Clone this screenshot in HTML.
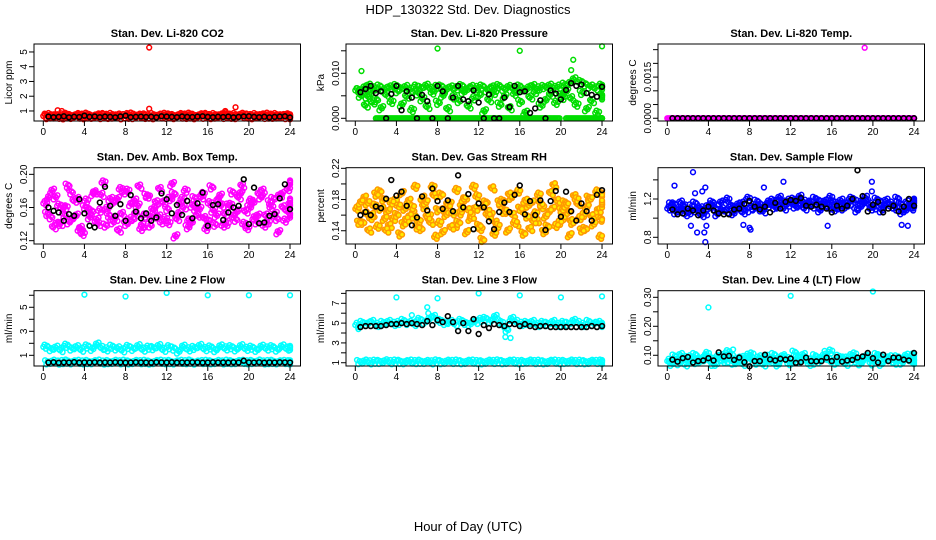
<!DOCTYPE html>
<html><head><meta charset="utf-8"><title>HDP_130322 Std. Dev. Diagnostics</title>
<style>
html,body{margin:0;padding:0;background:#fff;}
svg{display:block;font-family:"Liberation Sans",Arial,sans-serif;}
</style></head>
<body>
<svg id="chart" width="936" height="540" viewBox="0 0 936 540">
<text x="468" y="14" text-anchor="middle" font-size="13">HDP_130322  Std. Dev. Diagnostics</text>
<text x="468" y="531" text-anchor="middle" font-size="13">Hour of Day (UTC)</text>
<g id="panels"></g>
</svg>
<script>
// x tick labels
const xTicks = [0,4,8,12,16,20,24];

// Panel 1: CO2
const co2A = [0.66,0.70,0.62,0.68,0.72,0.64,0.70,0.66,0.73,0.62,0.68,0.70,0.65,0.71,0.67,0.63,0.70,0.74,0.66,0.68,0.62,0.70,0.66,0.72,0.68,0.64,0.70,0.67,0.73,0.65,0.69,0.71,0.64,0.70,0.68,0.75,0.66,0.70,0.72,0.67,0.64,0.70,0.68,0.73,0.66,0.70,0.64,0.69,0.62];
const co2B = [0.58,0.62,0.60,0.56,0.63,0.59,0.61,0.57,0.62,0.60,0.58,0.63,0.59,0.61,0.56,0.62,0.60,0.58,0.64,0.59,0.61,0.57,0.62,0.60,0.63,0.58,0.61,0.59,0.62,0.57,0.60,0.63,0.58,0.61,0.59,0.64,0.60,0.58,0.62,0.61,0.57,0.63,0.59,0.61,0.60,0.62,0.58,0.60,0.57];
const co2Blk = [0.62,0.58,0.60,0.64,0.57,0.61,0.59,0.68,0.60,0.63,0.58,0.62,0.60,0.57,0.63,0.68,0.58,0.60,0.62,0.59,0.61,0.57,0.64,0.62,0.60,0.58,0.63,0.60,0.59,0.62,0.64,0.60,0.58,0.61,0.59,0.62,0.57,0.60,0.63,0.64,0.60,0.58,0.61,0.57,0.60,0.62,0.64,0.56];
const co2OutT = [10.3,10.3,1.4,1.8,17.7,18.7];
const co2OutV = [5.3,1.15,1.05,1.0,1.0,1.25];

// Panel 2: Pressure
const presA = [0.0062,0.0055,0.0048,0.0035,0,0,0,0,0,0,0,0,0,0,0,0,0,0,0,0,0,0,0,0,0,0,0,0,0,0,0,0,0,0,0,0,0,0,0,0,0.0045,0,0,0,0,0,0,0,0];
const presB = [0.0062,0.0068,0.0072,0.0066,0.0070,0.0064,0.0068,0.0071,0.0066,0.0069,0.0063,0.0070,0.0067,0.0072,0.0065,0.0069,0.0070,0.0064,0.0068,0.0066,0.0071,0.0063,0.0069,0.0067,0.0070,0.0062,0.0068,0.0071,0.0065,0.0069,0.0066,0.0070,0.0064,0.0068,0.0071,0.0066,0.0069,0.0072,0.0067,0.0070,0.0074,0.0078,0.0086,0.0080,0.0075,0.0070,0.0066,0.0072,0.0068];
const presC = [0.0050,0.0028,0.0058,0.0040,0.0022,0.0052,0.0036,0.0060,0.0030,0.0048,0.0018,0.0055,0.0042,0.0025,0.0057,0.0034,0.0050,0.0020,0.0046,0.0038,0.0058,0.0026,0.0044,0.0052,0.0015,0.0040,0.0056,0.0030,0.0048,0.0022,0.0054,0.0036,0.0012,0.0046,0.0058,0.0028,0.0040,0.0052,0.0034,0.0050,0.0060,0.0044,0.0030,0.0056,0.0020,0.0038,0.0012,0.0050,0.0046];
const presBlk = [0.0058,0.0065,0.0072,0.0056,0.0060,0,0.0054,0.0072,0.0018,0.0060,0.0046,0,0.0052,0.0038,0,0.0072,0.0060,0,0.0046,0.0072,0.0042,0.0038,0.0062,0.0035,0,0.0053,0,0,0.0046,0.0025,0.0072,0.0058,0.0060,0.0012,0.0022,0.0040,0,0.0062,0.0055,0.0042,0.0063,0.0078,0.0072,0.0075,0.0056,0.0052,0.0048,0.0070];
const presOutT = [0.6,8,16,21.2,21,24];
const presOutV = [0.0105,0.0155,0.015,0.013,0.0107,0.016];

// Panel 3: Li-820 Temp
const tmpA = [0,0,0,0,0,0,0,0,0,0,0,0,0,0,0,0,0,0,0,0,0,0,0,0,0,0,0,0,0,0,0,0,0,0,0,0,0,0,0,0,0,0,0,0,0,0,0,0,0];
const tmpBlk = [0,0,0,0,0,0,0,0,0,0,0,0,0,0,0,0,0,0,0,0,0,0,0,0,0,0,0,0,0,0,0,0,0,0,0,0,0,0,0,0,0,0,0,0,0,0,0,0];
const tmpOutT = [19.2];
const tmpOutV = [0.00257];

// Panel 4: Amb. Box Temp
const ambA = [0.165,0.148,0.172,0.140,0.160,0.178,0.150,0.135,0.168,0.155,0.145,0.175,0.158,0.142,0.170,0.152,0.180,0.146,0.162,0.138,0.173,0.156,0.149,0.166,0.141,0.176,0.153,0.160,0.144,0.171,0.158,0.147,0.165,0.139,0.174,0.152,0.163,0.145,0.177,0.155,0.168,0.142,0.172,0.150,0.160,0.146,0.176,0.156,0.168];
const ambB = [0.152,0.180,0.140,0.160,0.186,0.146,0.170,0.128,0.158,0.176,0.140,0.190,0.150,0.166,0.132,0.178,0.144,0.168,0.185,0.150,0.138,0.160,0.182,0.146,0.170,0.125,0.164,0.180,0.142,0.158,0.172,0.134,0.184,0.150,0.162,0.140,0.178,0.155,0.186,0.135,0.166,0.150,0.180,0.142,0.170,0.130,0.160,0.182,0.150];
const ambC = [0.172,0.136,0.162,0.150,0.142,0.168,0.132,0.160,0.148,0.178,0.156,0.138,0.170,0.146,0.182,0.140,0.164,0.152,0.134,0.174,0.148,0.166,0.142,0.158,0.188,0.146,0.170,0.136,0.162,0.150,0.176,0.144,0.156,0.168,0.138,0.162,0.150,0.172,0.140,0.160,0.148,0.176,0.138,0.166,0.152,0.174,0.144,0.162,0.190];
const ambBlk = [0.160,0.156,0.154,0.144,0.152,0.150,0.170,0.153,0.138,0.136,0.166,0.185,0.162,0.150,0.164,0.144,0.175,0.155,0.147,0.153,0.144,0.148,0.177,0.170,0.153,0.163,0.151,0.168,0.147,0.165,0.178,0.138,0.163,0.164,0.145,0.154,0.160,0.162,0.194,0.140,0.184,0.141,0.142,0.150,0.152,0.171,0.188,0.158];

// Panel 5: Gas Stream RH
const rhA = [0.168,0.150,0.175,0.160,0.145,0.180,0.165,0.155,0.172,0.148,0.178,0.162,0.152,0.170,0.158,0.185,0.150,0.166,0.174,0.146,0.162,0.180,0.155,0.168,0.142,0.176,0.160,0.150,0.172,0.164,0.182,0.148,0.166,0.158,0.176,0.152,0.170,0.145,0.168,0.178,0.156,0.164,0.150,0.174,0.160,0.182,0.148,0.166,0.172];
const rhB = [0.150,0.182,0.140,0.172,0.190,0.155,0.146,0.178,0.135,0.168,0.158,0.196,0.142,0.176,0.150,0.132,0.186,0.160,0.144,0.192,0.170,0.138,0.158,0.184,0.128,0.164,0.194,0.146,0.178,0.140,0.160,0.190,0.136,0.172,0.152,0.186,0.138,0.164,0.198,0.150,0.176,0.134,0.184,0.156,0.142,0.180,0.160,0.132,0.186];
const rhC = [0.176,0.162,0.156,0.186,0.168,0.140,0.176,0.160,0.188,0.154,0.170,0.144,0.182,0.158,0.196,0.166,0.138,0.174,0.162,0.150,0.180,0.166,0.196,0.146,0.172,0.158,0.136,0.176,0.164,0.186,0.150,0.168,0.178,0.142,0.162,0.174,0.158,0.188,0.146,0.166,0.172,0.152,0.180,0.140,0.170,0.158,0.190,0.154,0.176];
const rhBlk = [0.160,0.164,0.160,0.171,0.169,0.181,0.205,0.185,0.190,0.172,0.147,0.157,0.184,0.166,0.194,0.178,0.168,0.179,0.165,0.211,0.170,0.187,0.142,0.175,0.170,0.152,0.142,0.164,0.176,0.164,0.186,0.198,0.161,0.178,0.160,0.179,0.141,0.178,0.191,0.158,0.190,0.165,0.153,0.175,0.165,0.153,0.186,0.192];

// Panel 6: Sample Flow
const sfA = [1.10,1.14,1.08,1.12,1.06,1.15,1.10,1.05,1.13,1.09,1.16,1.07,1.12,1.10,1.15,1.08,1.11,1.17,1.09,1.13,1.18,1.12,1.16,1.14,1.19,1.13,1.17,1.15,1.12,1.18,1.14,1.11,1.16,1.13,1.10,1.15,1.18,1.12,1.16,1.14,1.11,1.17,1.13,1.15,1.10,1.14,1.08,1.12,1.15];
const sfB = [1.14,1.06,1.16,1.04,1.12,1.08,1.03,1.11,1.16,1.04,1.09,1.19,1.05,1.14,1.06,1.20,1.10,1.13,1.07,1.16,1.11,1.21,1.10,1.18,1.12,1.22,1.10,1.16,1.20,1.08,1.17,1.21,1.09,1.18,1.14,1.20,1.08,1.17,1.21,1.10,1.19,1.08,1.18,1.12,1.20,1.06,1.16,1.10,1.18];
const sfBlk = [1.09,1.04,1.05,1.10,1.08,1.03,1.08,1.12,1.08,1.05,1.04,1.04,1.09,1.10,1.15,1.18,1.12,1.09,1.12,1.06,1.16,1.10,1.17,1.19,1.18,1.21,1.13,1.12,1.14,1.12,1.10,1.06,1.13,1.10,1.13,1.20,1.50,1.23,1.07,1.14,1.17,1.06,1.10,1.13,1.07,1.12,1.20,1.13];
const sfOutT = [0.7,2.5,2.3,2.7,3.4,3.7,3.6,3.8,8,8.1,7.4,9.4,11.3,15.6,19.9,19.9,22.8,23.4,2.9,3.7];
const sfOutV = [1.34,1.48,0.92,1.26,1.28,0.75,0.85,0.92,0.90,0.88,0.93,1.32,1.38,0.92,1.38,1.28,0.93,0.92,0.85,1.32];

// Panel 7: Line 2 Flow
const l2A = [1.70,1.50,1.62,1.42,1.78,1.55,1.66,1.45,1.72,1.52,1.88,1.60,1.48,1.70,1.56,1.40,1.68,1.52,1.74,1.46,1.62,1.58,1.75,1.44,1.66,1.54,1.30,1.70,1.48,1.60,1.76,1.50,1.64,1.42,1.72,1.56,1.66,1.48,1.74,1.52,1.62,1.44,1.70,1.55,1.66,1.46,1.72,1.54,1.60];
const l2B = [0.40,0.45,0.38,0.42,0.46,0.40,0.44,0.39,0.43,0.41,0.46,0.38,0.42,0.44,0.40,0.45,0.39,0.43,0.41,0.44,0.38,0.42,0.45,0.40,0.43,0.39,0.44,0.41,0.46,0.38,0.42,0.44,0.40,0.43,0.39,0.45,0.41,0.42,0.44,0.40,0.43,0.46,0.39,0.42,0.44,0.40,0.43,0.41,0.40];
const l2Blk = [0.40,0.42,0.38,0.41,0.40,0.43,0.39,0.41,0.40,0.42,0.39,0.41,0.40,0.42,0.41,0.39,0.40,0.42,0.41,0.40,0.39,0.42,0.41,0.40,0.42,0.39,0.41,0.40,0.42,0.41,0.39,0.40,0.42,0.40,0.41,0.39,0.42,0.40,0.55,0.41,0.40,0.42,0.39,0.41,0.40,0.42,0.41,0.40];
const l2OutT = [4,8,12,16,20,24];
const l2OutV = [6.05,5.9,6.2,6.0,6.0,6.0];

// Panel 8: Line 3 Flow
const l3A = [4.8,5.0,4.9,5.1,4.8,5.0,5.1,4.9,5.0,5.2,5.0,4.9,5.3,5.1,5.4,5.6,5.2,5.0,5.1,4.9,5.2,5.0,4.9,5.1,5.3,5.4,5.2,5.6,5.0,4.3,5.4,5.1,4.9,5.0,5.1,4.8,5.0,4.9,5.1,4.8,5.0,4.9,5.2,5.0,4.8,5.1,4.9,5.0,4.8];
const l3B = [1.05,1.10,1.02,1.08,1.06,1.12,1.04,1.09,1.07,1.03,1.10,1.05,1.08,1.06,1.02,1.11,1.04,1.08,1.06,1.10,1.03,1.07,1.09,1.05,1.02,1.08,1.06,1.11,1.04,1.07,1.09,1.03,1.06,1.10,1.05,1.08,1.02,1.07,1.09,1.04,1.06,1.10,1.05,1.08,1.03,1.07,1.06,1.09,1.04];
const l3Blk = [4.6,4.7,4.7,4.7,4.7,4.8,4.9,4.9,5.0,4.9,5.0,4.9,4.8,5.2,4.8,5.3,5.1,5.7,5.1,4.2,5.0,4.2,5.4,3.9,4.8,4.5,4.9,4.8,4.7,4.9,4.9,4.7,4.9,4.7,4.6,4.7,4.7,4.6,4.6,4.6,4.6,4.6,4.6,4.6,4.6,4.7,4.6,4.7];
const l3OutT = [4,8,12,16,20,24,7,7.1,5.5,14.6,15.1,0.3];
const l3OutV = [7.6,7.5,8.0,7.8,7.6,7.7,6.6,6.0,5.8,3.6,3.5,4.4];

// Panel 9: Line 4 (LT) Flow
const l4A = [0.080,0.095,0.072,0.090,0.085,0.100,0.078,0.092,0.088,0.070,0.096,0.082,0.098,0.076,0.090,0.084,0.102,0.074,0.088,0.094,0.080,0.068,0.096,0.086,0.078,0.092,0.100,0.082,0.074,0.090,0.098,0.084,0.076,0.094,0.088,0.080,0.102,0.072,0.090,0.086,0.078,0.096,0.082,0.092,0.074,0.088,0.098,0.080,0.090];
const l4B = [0.070,0.082,0.100,0.068,0.092,0.076,0.086,0.104,0.070,0.094,0.080,0.110,0.074,0.088,0.070,0.098,0.078,0.092,0.068,0.084,0.100,0.076,0.090,0.072,0.108,0.080,0.086,0.070,0.096,0.078,0.090,0.112,0.074,0.088,0.070,0.096,0.082,0.072,0.094,0.076,0.100,0.070,0.088,0.080,0.092,0.074,0.086,0.098,0.076];
const l4Blk = [0.085,0.078,0.090,0.094,0.075,0.080,0.082,0.090,0.082,0.110,0.096,0.098,0.084,0.092,0.076,0.062,0.080,0.080,0.102,0.086,0.082,0.088,0.085,0.089,0.074,0.076,0.092,0.080,0.079,0.080,0.092,0.080,0.094,0.078,0.082,0.084,0.092,0.096,0.108,0.090,0.075,0.102,0.080,0.092,0.092,0.085,0.082,0.108];
const l4OutT = [4,12,20,6.4,19.9,15.3];
const l4OutV = [0.265,0.305,0.32,0.12,0.065,0.115];

const panels = [
 {name:'co2',title:'Stan. Dev. Li-820 CO2',unit:'Licor ppm',col:0,row:0,color:'#ff0000',dom:[0.32,5.54],ticks:[1,2,3,4,5],labels:['1','2','3','4','5'],series:[co2A,co2B],blk:co2Blk,outT:co2OutT,outV:co2OutV},
 {name:'pressure',title:'Stan. Dev. Li-820 Pressure',unit:'kPa',col:1,row:0,color:'#00dd00',dom:[-0.0006,0.01651],ticks:[0,0.005,0.01,0.015],labels:['0.000','','0.010',''],series:[presA,presB,presC],blk:presBlk,outT:presOutT,outV:presOutV},
 {name:'li820-temp',title:'Stan. Dev. Li-820 Temp.',unit:'degrees C',col:2,row:0,color:'#ff00ff',dom:[-0.0001,0.002706],ticks:[0,0.0005,0.001,0.0015,0.002,0.0025],labels:['0.0000','','','0.0015','',''],series:[tmpA],blk:tmpBlk,outT:tmpOutT,outV:tmpOutV},
 {name:'amb-box-temp',title:'Stan. Dev. Amb. Box Temp.',unit:'degrees C',col:0,row:1,color:'#ff00ff',dom:[0.116,0.208],ticks:[0.12,0.14,0.16,0.18,0.20],labels:['0.12','','0.16','','0.20'],series:[ambA,ambB,ambC],blk:ambBlk,outT:[],outV:[]},
 {name:'gas-stream-rh',title:'Stan. Dev. Gas Stream RH',unit:'percent',col:1,row:1,color:'#ff9900',dom:[0.123,0.2208],ticks:[0.14,0.16,0.18,0.20,0.22],labels:['0.14','','0.18','','0.22'],series:[rhA,rhB,rhC],blk:rhBlk,outT:[],outV:[],inner:'#ffee00'},
 {name:'sample-flow',title:'Stan. Dev. Sample Flow',unit:'ml/min',col:2,row:1,color:'#0000ff',dom:[0.730,1.527],ticks:[0.8,1.0,1.2,1.4],labels:['0.8','','1.2',''],series:[sfA,sfB],blk:sfBlk,outT:sfOutT,outV:sfOutV},
 {name:'line2-flow',title:'Stan. Dev. Line 2 Flow',unit:'ml/min',col:0,row:2,color:'#00ffff',dom:[0.11,6.38],ticks:[1,2,3,4,5,6],labels:['1','','3','','5',''],series:[l2A,l2B],blk:l2Blk,outT:l2OutT,outV:l2OutV},
 {name:'line3-flow',title:'Stan. Dev. Line 3 Flow',unit:'ml/min',col:1,row:2,color:'#00ffff',dom:[0.67,8.27],ticks:[1,2,3,4,5,6,7,8],labels:['1','','3','','5','','7',''],series:[l3A,l3B],blk:l3Blk,outT:l3OutT,outV:l3OutV},
 {name:'line4-flow',title:'Stan. Dev. Line 4 (LT) Flow',unit:'ml/min',col:2,row:2,color:'#00ffff',dom:[0.063,0.3228],ticks:[0.10,0.15,0.20,0.25,0.30],labels:['0.10','','0.20','','0.30'],series:[l4A,l4B],blk:l4Blk,outT:l4OutT,outV:l4OutV}
];

const NS='http://www.w3.org/2000/svg';
const root=document.getElementById('panels');
const boxTop=[44,167.7,290.7], boxBot=[121,244,366];
const jit=[0,0.03,-0.025,0.015];
function mk(tag,attrs,parent){const e=document.createElementNS(NS,tag);for(const k in attrs)e.setAttribute(k,attrs[k]);parent.appendChild(e);return e;}

panels.forEach(p=>{
  const c=p.col*312, L=c+34, R=c+300.5, T=boxTop[p.row], B=boxBot[p.row];
  const xs=t=>c+43.3+t*10.28;
  const ys=v=>B-(v-p.dom[0])/(p.dom[1]-p.dom[0])*(B-T);
  const g=mk('g',{},root);
  
  
  const title=mk('text',{x:(L+R)/2,y:T-7,'text-anchor':'middle','font-size':'11','font-weight':'bold'},g);
  title.textContent=p.title;
  
  
  const yl=mk('text',{x:0,y:0,transform:`translate(${c+12},${(T+B)/2}) rotate(-90)`,'text-anchor':'middle','font-size':'10'},g);
  yl.textContent=p.unit;
  
  
  const pts=mk('g',{fill:'none','stroke-width':'1.5'},g);
  
  
  const span=p.dom[1]-p.dom[0];
  p.series.forEach((arr,si)=>{
    arr.forEach((v,i)=>{
      for(let k=0;k<4;k++){
        const t=Math.min(i*0.5+si*0.17+k*0.125,24);
        const vv=v+span*jit[(i+k+si)%4]*(v===0?0:1);
        const ci=mk('circle',{cx:xs(t),cy:ys(vv),r:2.4,stroke:p.color},pts);
        if(p.inner) ci.setAttribute('fill',p.inner);
        
        
      }
    });
  });
  p.outT.forEach((t,i)=>{
    const ci=mk('circle',{cx:xs(t),cy:ys(p.outV[i]),r:2.4,stroke:p.color},pts);
    
    
  });
  const bg=mk('g',{fill:'none','stroke-width':'1.6',stroke:'#000'},g);
  
  
  p.blk.forEach((v,i)=>{
    const ci=mk('circle',{cx:xs((i+1)*0.5),cy:ys(v),r:2.4},bg);
    
    
  });
  const box=mk('rect',{x:L,y:T,width:R-L,height:B-T,fill:'none',stroke:'#000','stroke-width':'1'},g);
  
  
  const xa=mk('g',{stroke:'#000','stroke-width':'1','font-size':'10'},g);
  
  
  xTicks.forEach(t=>{
    mk('line',{x1:xs(t),x2:xs(t),y1:B,y2:B+5},xa);
    const tx=mk('text',{x:xs(t),y:B+14,'text-anchor':'middle',stroke:'none',fill:'#000'},xa);
    tx.textContent=t;
    
    
  });
  const ya=mk('g',{stroke:'#000','stroke-width':'1','font-size':'10'},g);
  
  
  p.ticks.forEach((v,i)=>{
    mk('line',{x1:L-5,x2:L,y1:ys(v),y2:ys(v)},ya);
    if(p.labels[i]){
      const tx=mk('text',{x:0,y:0,transform:`translate(${c+27},${ys(v)}) rotate(-90)`,'text-anchor':'middle',stroke:'none',fill:'#000'},ya);
      tx.textContent=p.labels[i];
      
      
    }
  });
});
</script>
</body></html>
